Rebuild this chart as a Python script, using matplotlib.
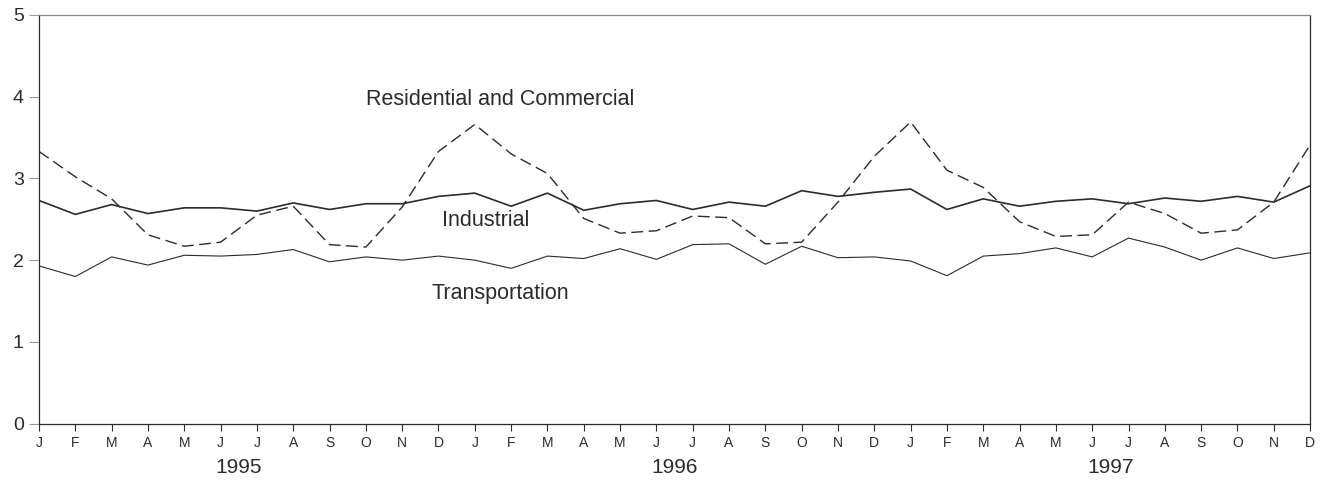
import matplotlib
matplotlib.use('Agg')
import matplotlib.pyplot as plt

plt.rcParams['font.family'] = ['Liberation Sans', 'DejaVu Sans']

months = ['J', 'F', 'M', 'A', 'M', 'J', 'J', 'A', 'S', 'O', 'N', 'D'] * 3
years = ['1995', '1996', '1997']

residential = [3.33, 3.02, 2.75, 2.31, 2.17, 2.22, 2.55, 2.66, 2.19, 2.16, 2.65, 3.33,
               3.66, 3.30, 3.06, 2.51, 2.33, 2.36, 2.54, 2.52, 2.20, 2.22, 2.71, 3.27,
               3.69, 3.10, 2.89, 2.47, 2.29, 2.31, 2.71, 2.57, 2.33, 2.37, 2.71, 3.41]
industrial = [2.73, 2.56, 2.68, 2.57, 2.64, 2.64, 2.60, 2.70, 2.62, 2.69, 2.69, 2.78,
              2.82, 2.66, 2.82, 2.61, 2.69, 2.73, 2.62, 2.71, 2.66, 2.85, 2.78, 2.83,
              2.87, 2.62, 2.75, 2.66, 2.72, 2.75, 2.69, 2.76, 2.72, 2.78, 2.71, 2.91]
transportation = [1.93, 1.80, 2.04, 1.94, 2.06, 2.05, 2.07, 2.13, 1.98, 2.04, 2.00, 2.05,
                  2.00, 1.90, 2.05, 2.02, 2.14, 2.01, 2.19, 2.20, 1.95, 2.17, 2.03, 2.04,
                  1.99, 1.81, 2.05, 2.08, 2.15, 2.04, 2.27, 2.16, 2.00, 2.15, 2.02, 2.09]

x = list(range(len(months)))
ink = '#2b2b2b'

fig = plt.figure(figsize=(13.22, 4.8), dpi=100)
ax = fig.add_axes([0.0295, 0.1173, 0.9615, 0.8517])

ax.plot(x, residential, color=ink, lw=1.0, dashes=(8.5, 4))
ax.plot(x, industrial, color=ink, lw=1.2)
ax.plot(x, transportation, color=ink, lw=0.8)

# series labels placed in data coordinates
ax.text(12.7, 3.96, 'Residential and Commercial', fontsize=15.5, color=ink,
        ha='center', va='center')
ax.text(12.29, 2.48, 'Industrial', fontsize=15.5, color=ink,
        ha='center', va='center')
ax.text(12.7, 1.59, 'Transportation', fontsize=15.5, color=ink,
        ha='center', va='center')

ax.set_xlim(0, len(months) - 1)
ax.set_ylim(0, 5)
ax.set_xticks(x)
ax.set_xticklabels(months, fontsize=10, color=ink)
ax.set_yticks(range(6))
ax.set_yticklabels([str(v) for v in range(6)], fontsize=14, color=ink)
ax.tick_params(axis='x', length=5, width=0.8, pad=4, color=ink)
ax.tick_params(axis='y', length=7, width=0.8, pad=4, color='#999999')

for i, yr in enumerate(years):
    ax.text(i * 12 + 5.5, -0.42, yr, fontsize=15, color=ink, ha='center', va='top')

ax.spines['left'].set_color(ink)
ax.spines['bottom'].set_color(ink)
ax.spines['right'].set_color(ink)
ax.spines['top'].set_color('#888888')
for s in ax.spines.values():
    s.set_linewidth(0.9)

fig.savefig('out.png', dpi=100)
